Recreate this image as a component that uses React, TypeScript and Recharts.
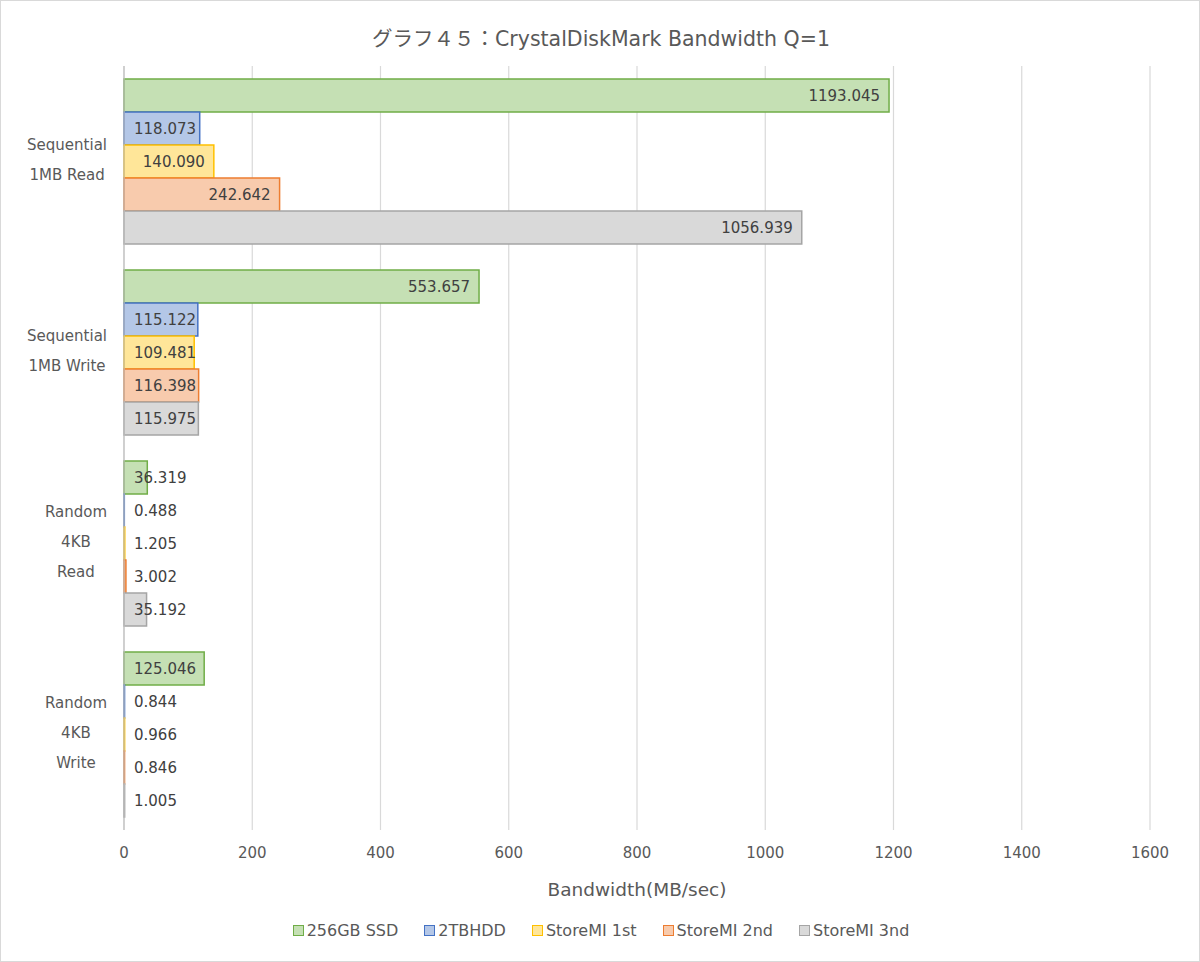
import { BarChart, Bar, XAxis, YAxis, CartesianGrid, LabelList } from "recharts";

const categories = ["Sequential\n1MB Read", "Sequential\n1MB Write", "Random\n4KB\nRead", "Random\n4KB\nWrite"];
const ssd256 = [1193.045, 553.657, 36.319, 125.046];
const hdd2tb = [118.073, 115.122, 0.488, 0.844];
const storeMi1 = [140.09, 109.481, 1.205, 0.966];
const storeMi2 = [242.642, 116.398, 3.002, 0.846];
const storeMi3 = [1056.939, 115.975, 35.192, 1.005];
const xTicks = [0, 200, 400, 600, 800, 1000, 1200, 1400, 1600];

const series = [
  { key: "ssd", name: "256GB SSD", values: ssd256, fill: "#c5e0b4", stroke: "#70ad47" },
  { key: "hdd", name: "2TBHDD", values: hdd2tb, fill: "#b4c7e7", stroke: "#4472c4" },
  { key: "s1", name: "StoreMI 1st", values: storeMi1, fill: "#ffe699", stroke: "#ffc000" },
  { key: "s2", name: "StoreMI 2nd", values: storeMi2, fill: "#f8cbad", stroke: "#ed7d31" },
  { key: "s3", name: "StoreMI 3nd", values: storeMi3, fill: "#d9d9d9", stroke: "#a5a5a5" },
];

const data = categories.map((c, i) => {
  const row: Record<string, string | number> = { category: c };
  series.forEach((s) => (row[s.key] = s.values[i]));
  return row;
});

const FONT = '"DejaVu Sans", "Noto Sans CJK JP", sans-serif';

let ctx: CanvasRenderingContext2D | null = null;
function textWidth(t: string, size: number) {
  if (!ctx) ctx = document.createElement("canvas").getContext("2d");
  if (!ctx) return t.length * size * 0.6;
  ctx.font = `${size}px ${FONT}`;
  return ctx.measureText(t).width;
}

function CategoryTick({ x, y, payload }: any) {
  const lines = String(payload.value).split("\n");
  const maxW = Math.max(...lines.map((l) => textWidth(l, 15)));
  const cx = x - 9 - maxW / 2;
  const top = y - 2 - ((lines.length - 1) * 30) / 2;
  return (
    <text textAnchor="middle" fill="#595959" fontSize={15} fontFamily={FONT}>
      {lines.map((l, i) => (
        <tspan key={i} x={cx} y={top + i * 30} dy="0.35em">
          {l}
        </tspan>
      ))}
    </text>
  );
}

function ValueLabel({ x, y, width, height, value }: any) {
  const txt = Number(value).toFixed(3);
  const w = textWidth(txt, 15);
  const tx = Math.max(x + 10, x + width - 9 - w);
  return (
    <text x={tx} y={y + height / 2} dy="0.36em" fill="#404040" fontSize={15} fontFamily={FONT} textAnchor="start">
      {txt}
    </text>
  );
}

export default function App() {
  return (
    <div
      style={{
        position: "absolute",
        left: 0,
        top: 0,
        width: 1200,
        height: 962,
        background: "#fff",
        border: "1px solid #d9d9d9",
        boxSizing: "border-box",
        fontFamily: FONT,
      }}
    >
      <div
        style={{
          position: "absolute",
          top: 21,
          left: 0,
          width: 1200,
          textAlign: "center",
          fontSize: 20.5,
          color: "#595959",
        }}
      >
        グラフ４５：CrystalDiskMark Bandwidth Q=1
      </div>
      <div style={{ position: "absolute", left: -1, top: -1 }}>
        <BarChart
          width={1200}
          height={962}
          data={data}
          layout="vertical"
          margin={{ top: 66, right: 50, bottom: 62, left: 0 }}
          barCategoryGap={13}
          barGap={0}
        >
          <CartesianGrid horizontal={false} stroke="#d9d9d9" strokeWidth={1.2} />
          <XAxis
            type="number"
            domain={[0, 1600]}
            ticks={xTicks}
            height={70}
            axisLine={false}
            tickLine={false}
            tickMargin={11}
            tick={{ fill: "#595959", fontSize: 15, fontFamily: FONT }}
            label={{
              value: "Bandwidth(MB/sec)",
              position: "insideBottom",
              offset: 4,
              fill: "#595959",
              fontSize: 18.5,
              fontFamily: FONT,
            }}
          />
          <YAxis
            type="category"
            dataKey="category"
            width={124}
            axisLine={{ stroke: "#bfbfbf", strokeWidth: 1.2 }}
            tickLine={false}
            tick={<CategoryTick />}
          />
          {series.map((s) => (
            <Bar
              key={s.key}
              dataKey={s.key}
              name={s.name}
              fill={s.fill}
              stroke={s.stroke}
              strokeWidth={1.5}
              isAnimationActive={false}
            >
              <LabelList dataKey={s.key} content={<ValueLabel />} />
            </Bar>
          ))}
        </BarChart>
      </div>
      <div
        style={{
          position: "absolute",
          top: 920,
          left: 0,
          width: 1200,
          display: "flex",
          justifyContent: "center",
          gap: 26,
          fontSize: 16,
          color: "#595959",
        }}
      >
        {series.map((s) => (
          <span key={s.key} style={{ display: "flex", alignItems: "center", gap: 3 }}>
            <span
              style={{
                display: "inline-block",
                width: 9,
                height: 9,
                background: s.fill,
                border: `1.5px solid ${s.stroke}`,
              }}
            />
            {s.name}
          </span>
        ))}
      </div>
    </div>
  );
}
